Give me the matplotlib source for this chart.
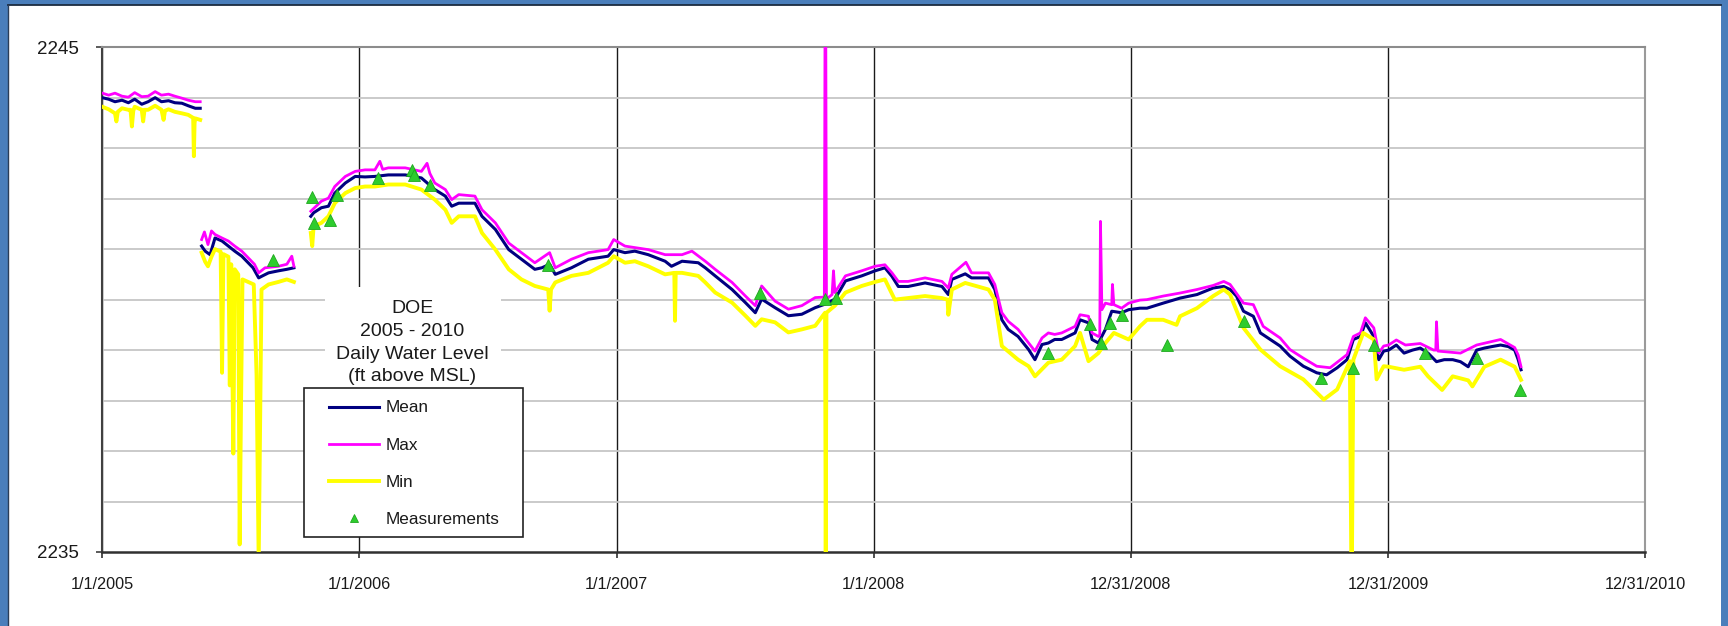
import numpy as np
import matplotlib
matplotlib.use("Agg")
import matplotlib.pyplot as plt
from matplotlib.patches import Rectangle
from matplotlib.lines import Line2D
from matplotlib.ticker import MultipleLocator, FixedLocator, FixedFormatter

plt.rcParams['font.family'] = ['Liberation Sans', 'DejaVu Sans']

nan = np.nan
START = np.datetime64('2005-01-01')

# ---- data: (day since 1/1/2005, water level ft above MSL) ----
mean_series = [
    (0, 2244.00), (9, 2243.97), (18, 2243.92), (28, 2243.95), (37, 2243.90), (46, 2243.97),
    (56, 2243.87), (65, 2243.92), (75, 2244.00), (84, 2243.92), (94, 2243.94), (103, 2243.90),
    (113, 2243.89), (122, 2243.84), (132, 2243.79), (139, 2243.79),
    (140, nan),
    (141, 2241.06), (146, 2240.96), (153, 2240.89), (160, 2241.22), (170, 2241.16), (179, 2241.06),
    (188, 2240.96), (198, 2240.86), (207, 2240.73), (214, 2240.63), (222, 2240.43), (226, 2240.46),
    (236, 2240.53), (250, 2240.57), (262, 2240.60), (272, 2240.63),
    (284, nan),
    (296, 2241.65), (300, 2241.72), (311, 2241.82), (321, 2241.85), (330, 2242.11), (345, 2242.31),
    (359, 2242.44), (373, 2242.43), (387, 2242.44), (406, 2242.47), (430, 2242.47), (453, 2242.41),
    (472, 2242.18), (487, 2242.05), (496, 2241.85), (506, 2241.91), (529, 2241.91), (539, 2241.65),
    (558, 2241.39), (577, 2240.99), (595, 2240.80), (614, 2240.60), (624, 2240.63), (635, 2240.70),
    (643, 2240.50), (666, 2240.63), (690, 2240.80), (718, 2240.86), (726, 2240.99),
    (742, 2240.93), (756, 2240.96), (775, 2240.89), (799, 2240.76), (808, 2240.66), (823, 2240.76),
    (846, 2240.73), (856, 2240.63), (870, 2240.47), (894, 2240.20), (913, 2239.94), (927, 2239.74),
    (936, 2240.01), (955, 2239.84), (974, 2239.68), (993, 2239.71), (1012, 2239.84), (1026, 2239.91),
    (1040, 2240.01), (1055, 2240.37), (1078, 2240.47), (1097, 2240.57),
    (1111, 2240.63), (1121, 2240.46), (1130, 2240.26), (1144, 2240.26), (1168, 2240.33), (1192, 2240.26),
    (1201, 2240.10), (1206, 2240.40), (1225, 2240.51), (1234, 2240.43), (1258, 2240.43), (1267, 2240.20),
    (1277, 2239.60), (1286, 2239.41), (1300, 2239.27), (1315, 2239.01), (1324, 2238.81), (1334, 2239.11),
    (1343, 2239.14), (1352, 2239.21), (1362, 2239.21), (1381, 2239.34), (1388, 2239.60), (1400, 2239.54),
    (1405, 2239.21), (1414, 2239.14), (1424, 2239.41), (1433, 2239.77), (1447, 2239.74), (1457, 2239.80),
    (1473, 2239.83),
    (1483, 2239.83), (1506, 2239.93), (1530, 2240.03), (1554, 2240.10), (1577, 2240.23), (1592, 2240.26),
    (1601, 2240.20), (1610, 2240.07), (1620, 2239.77), (1634, 2239.67), (1644, 2239.34), (1658, 2239.21),
    (1672, 2239.08), (1686, 2238.88), (1705, 2238.68), (1724, 2238.55), (1738, 2238.51), (1753, 2238.65),
    (1767, 2238.81), (1776, 2239.21), (1786, 2239.27), (1793, 2239.54), (1805, 2239.27), (1812, 2238.81),
    (1819, 2238.98),
    (1826, 2239.00), (1837, 2239.10), (1848, 2238.94), (1860, 2239.00), (1871, 2239.04), (1882, 2238.94),
    (1894, 2238.77), (1905, 2238.81), (1917, 2238.81), (1928, 2238.77), (1939, 2238.67), (1951, 2239.00),
    (1962, 2239.04), (1973, 2239.07), (1985, 2239.10), (1996, 2239.07), (2005, 2239.00), (2010, 2238.81),
    (2014, 2238.61),
]

max_series = [
    (0, 2244.09), (9, 2244.05), (18, 2244.09), (28, 2244.03), (37, 2244.01), (46, 2244.10),
    (56, 2244.02), (65, 2244.03), (75, 2244.12), (84, 2244.05), (94, 2244.07), (103, 2244.03),
    (113, 2243.99), (122, 2243.95), (132, 2243.92), (139, 2243.92),
    (140, nan),
    (141, 2241.19), (145, 2241.34), (150, 2241.09), (155, 2241.36), (160, 2241.29), (170, 2241.22),
    (179, 2241.16), (188, 2241.06), (198, 2240.96), (207, 2240.83), (216, 2240.70), (222, 2240.53),
    (231, 2240.63), (250, 2240.66), (262, 2240.70), (269, 2240.86), (272, 2240.66),
    (284, nan),
    (296, 2241.75), (311, 2241.95), (321, 2242.01), (330, 2242.24), (345, 2242.44), (359, 2242.54),
    (373, 2242.57), (387, 2242.57), (394, 2242.74), (398, 2242.58), (406, 2242.61), (430, 2242.61),
    (453, 2242.54), (461, 2242.70), (465, 2242.50), (472, 2242.31), (487, 2242.18), (496, 2241.98),
    (506, 2242.08), (529, 2242.05), (539, 2241.78), (558, 2241.52), (577, 2241.12), (595, 2240.93),
    (614, 2240.73), (635, 2240.93), (643, 2240.63), (666, 2240.80), (690, 2240.93), (718, 2240.99),
    (726, 2241.19),
    (742, 2241.06), (756, 2241.03), (775, 2240.99), (799, 2240.89), (823, 2240.89), (837, 2240.96),
    (856, 2240.76), (870, 2240.60), (894, 2240.34), (913, 2240.07), (927, 2239.88), (936, 2240.27),
    (955, 2239.97), (974, 2239.81), (993, 2239.88), (1012, 2240.04), (1025, 2240.05), (1026, 2245.60),
    (1027, 2245.60), (1028, 2240.01), (1036, 2240.10), (1038, 2240.57), (1040, 2240.14), (1055, 2240.47),
    (1078, 2240.57), (1097, 2240.66),
    (1111, 2240.69), (1121, 2240.53), (1130, 2240.36), (1144, 2240.36), (1168, 2240.43), (1192, 2240.36),
    (1201, 2240.23), (1206, 2240.50), (1226, 2240.74), (1234, 2240.53), (1258, 2240.53), (1267, 2240.30),
    (1277, 2239.74), (1286, 2239.57), (1300, 2239.41), (1315, 2239.14), (1324, 2238.98), (1334, 2239.24),
    (1343, 2239.34), (1352, 2239.31), (1362, 2239.34), (1381, 2239.47), (1388, 2239.70), (1400, 2239.67),
    (1405, 2239.34), (1414, 2239.27), (1416, 2239.30), (1417, 2241.55), (1419, 2239.80), (1424, 2239.93),
    (1433, 2239.90), (1434, 2240.30), (1436, 2239.90), (1447, 2239.83), (1457, 2239.93), (1473, 2239.99),
    (1483, 2240.00), (1506, 2240.07), (1530, 2240.13), (1554, 2240.20), (1577, 2240.28), (1592, 2240.36),
    (1601, 2240.30), (1620, 2239.93), (1634, 2239.90), (1648, 2239.47), (1672, 2239.24), (1686, 2239.01),
    (1705, 2238.84), (1724, 2238.68), (1743, 2238.65), (1767, 2238.91), (1776, 2239.27), (1786, 2239.34),
    (1793, 2239.64), (1805, 2239.44), (1812, 2238.94), (1819, 2239.08),
    (1826, 2239.10), (1837, 2239.20), (1850, 2239.10), (1871, 2239.13), (1890, 2239.00), (1893, 2239.00),
    (1894, 2239.56), (1896, 2238.98), (1928, 2238.94), (1951, 2239.10), (1973, 2239.17), (1985, 2239.21),
    (2005, 2239.05), (2010, 2238.90), (2014, 2238.67),
]

min_series = [
    (0, 2243.82), (9, 2243.77), (18, 2243.69), (20, 2243.53), (22, 2243.72), (28, 2243.79),
    (37, 2243.76), (40, 2243.76), (42, 2243.43), (44, 2243.74), (46, 2243.82), (56, 2243.76),
    (58, 2243.53), (60, 2243.76), (65, 2243.76), (75, 2243.84), (84, 2243.76), (87, 2243.56),
    (89, 2243.74), (94, 2243.77), (103, 2243.72), (113, 2243.69), (122, 2243.66), (129, 2243.60),
    (130, 2242.84), (131, 2243.50), (132, 2243.59), (139, 2243.56),
    (140, nan),
    (141, 2240.93), (146, 2240.75), (150, 2240.66), (155, 2240.85), (160, 2241.00), (168, 2240.95),
    (170, 2238.55), (172, 2240.90), (179, 2240.85), (181, 2238.30), (183, 2240.70), (186, 2236.95),
    (188, 2240.60), (193, 2240.50), (195, 2235.15), (197, 2238.00), (199, 2240.40), (207, 2240.35),
    (215, 2240.30), (219, 2238.50), (222, 2234.80), (224, 2237.50), (226, 2240.20), (236, 2240.30),
    (250, 2240.35), (262, 2240.40), (272, 2240.35),
    (284, nan),
    (296, 2241.32), (298, 2241.06), (300, 2241.45), (311, 2241.52), (321, 2241.65), (330, 2241.91),
    (345, 2242.11), (359, 2242.21), (373, 2242.24), (387, 2242.24), (406, 2242.28), (430, 2242.28),
    (453, 2242.18), (472, 2241.98), (487, 2241.78), (496, 2241.52), (506, 2241.65), (529, 2241.65),
    (539, 2241.32), (558, 2240.99), (577, 2240.60), (595, 2240.40), (614, 2240.27), (633, 2240.20),
    (635, 2239.78), (637, 2240.20), (643, 2240.34), (666, 2240.47), (690, 2240.53), (718, 2240.73),
    (726, 2240.86),
    (742, 2240.73), (756, 2240.76), (775, 2240.66), (799, 2240.50), (812, 2240.53), (813, 2239.58),
    (814, 2240.53), (823, 2240.53), (846, 2240.47), (856, 2240.34), (870, 2240.14), (894, 2239.94),
    (913, 2239.68), (927, 2239.48), (936, 2239.61), (955, 2239.55), (974, 2239.35), (993, 2239.41),
    (1012, 2239.48), (1026, 2239.74), (1027, 2234.90), (1028, 2239.74), (1040, 2239.88), (1055, 2240.14),
    (1078, 2240.27), (1097, 2240.35),
    (1111, 2240.40), (1125, 2240.00), (1144, 2240.03), (1168, 2240.07), (1192, 2240.03), (1200, 2240.00),
    (1201, 2239.70), (1206, 2240.20), (1225, 2240.33), (1258, 2240.20), (1267, 2240.00), (1277, 2239.08),
    (1300, 2238.81), (1315, 2238.68), (1324, 2238.48), (1343, 2238.75), (1362, 2238.81), (1381, 2239.08),
    (1388, 2239.34), (1400, 2238.78), (1414, 2238.94), (1424, 2239.14), (1436, 2239.34), (1457, 2239.21),
    (1473, 2239.47),
    (1483, 2239.60), (1506, 2239.60), (1525, 2239.50), (1530, 2239.67), (1554, 2239.83), (1577, 2240.07),
    (1592, 2240.20), (1601, 2240.10), (1620, 2239.44), (1644, 2239.01), (1672, 2238.68), (1705, 2238.42),
    (1734, 2238.02), (1753, 2238.22), (1771, 2238.78), (1773, 2234.90), (1774, 2234.90), (1776, 2238.81),
    (1790, 2239.34), (1805, 2239.21), (1809, 2238.42), (1819, 2238.68),
    (1826, 2238.67), (1848, 2238.61), (1871, 2238.67), (1882, 2238.48), (1902, 2238.21), (1917, 2238.48),
    (1939, 2238.40), (1945, 2238.28), (1962, 2238.67), (1985, 2238.81), (2005, 2238.67), (2014, 2238.41),
]

measurements = [
    (243, 2240.79), (297, 2242.04), (300, 2241.51), (323, 2241.58), (333, 2242.07), (392, 2242.40),
    (439, 2242.57), (442, 2242.47), (465, 2242.27), (633, 2240.69), (934, 2240.13), (1026, 2240.01),
    (1041, 2240.03), (1342, 2238.94), (1402, 2239.52), (1418, 2239.14), (1431, 2239.54), (1447, 2239.70),
    (1511, 2239.11), (1621, 2239.57), (1730, 2238.45), (1775, 2238.65), (1805, 2239.11), (1878, 2238.94),
    (1951, 2238.84), (2013, 2238.21),
]

series_labels = ['Mean', 'Max', 'Min', 'Measurements']
title_lines = ['DOE', '2005 - 2010', 'Daily Water Level', '(ft above MSL)']
tick_days = [0, 365, 730, 1095, 1460, 1825, 2190]
tick_labels = ['1/1/2005', '1/1/2006', '1/1/2007', '1/1/2008', '12/31/2008', '12/31/2009', '12/31/2010']
y_min, y_max = 2235, 2245
y_ticks = [2235, 2245]


def split(series):
    d = np.array([p[0] for p in series], dtype=int)
    v = np.array([p[1] for p in series], dtype=float)
    return START + d.astype('timedelta64[D]'), v


W, H = 1728, 626
fig = plt.figure(figsize=(W / 100, H / 100), dpi=100)
fig.patch.set_facecolor('#4A7EBB')


def fx(px):
    return px / W


def fy(py):
    return 1 - py / H


# inner white panel
fig.add_artist(Rectangle((fx(8), 0), fx(1721) - fx(8), fy(5), transform=fig.transFigure,
                         facecolor='white', edgecolor='none', zorder=-5))
fig.add_artist(Line2D([fx(8), fx(1721)], [fy(5), fy(5)], transform=fig.transFigure,
                      color='#1b2b40', lw=1.3, zorder=-4))
fig.add_artist(Line2D([fx(8), fx(8)], [0, fy(5)], transform=fig.transFigure,
                      color='#2a3d58', lw=1.0, zorder=-4))

ax = fig.add_axes([fx(102.3), fy(552), fx(1645) - fx(102.3), fy(47.2) - fy(552)])
ax.set_facecolor('white')

dm, vm = split(mean_series)
dx, vx = split(max_series)
dn, vn = split(min_series)
dmeas, vmeas = split(measurements)

l_mean, = ax.plot(dm, vm, color='#000080', lw=2.2, zorder=3, label=series_labels[0])
l_max, = ax.plot(dx, vx, color='#FF00FF', lw=2.0, zorder=3.1, label=series_labels[1])
l_min, = ax.plot(dn, vn, color='#FFFF00', lw=2.8, zorder=3.2, label=series_labels[2])
l_meas, = ax.plot(dmeas, vmeas, ls='none', marker='^', markersize=9, color='#2ECC2E',
                  markeredgecolor='#1FA81F', markeredgewidth=0.6, zorder=4, label=series_labels[3])

ax.set_xlim(START, START + np.timedelta64(tick_days[-1], 'D'))
ax.set_ylim(y_min, y_max)

tick_dates = matplotlib.dates.date2num(START + np.array(tick_days).astype('timedelta64[D]'))
ax.xaxis.set_major_locator(FixedLocator(tick_dates))
ax.xaxis.set_major_formatter(FixedFormatter(tick_labels))
ax.yaxis.set_major_locator(FixedLocator(y_ticks))
ax.yaxis.set_minor_locator(MultipleLocator(1))
ax.yaxis.set_major_formatter(matplotlib.ticker.FormatStrFormatter('%d'))

ax.set_axisbelow(True)
ax.yaxis.grid(True, which='minor', color='#c6c6c6', lw=1.3)
ax.xaxis.grid(True, which='major', color='#1a1a1a', lw=1.0)

ax.tick_params(axis='y', which='major', length=4.5, width=1.2, color='#404040', pad=12.5,
               labelsize=13.5, labelcolor='#1a1a1a')
ax.tick_params(axis='y', which='minor', length=0)
ax.tick_params(axis='x', which='major', length=4, width=1.2, color='#303030', pad=13.7,
               labelsize=11.7, labelcolor='#1a1a1a')

ax.spines['left'].set_color('#404040')
ax.spines['left'].set_linewidth(1.5)
ax.spines['bottom'].set_color('#303030')
ax.spines['bottom'].set_linewidth(1.8)
ax.spines['top'].set_color('#8c8c8c')
ax.spines['top'].set_linewidth(1.5)
ax.spines['right'].set_color('#9a9a9a')
ax.spines['right'].set_linewidth(1.5)

# title block with white background
fig.add_artist(Rectangle((fx(325), fy(388)), fx(501) - fx(325), fy(287) - fy(388),
                         transform=fig.transFigure, facecolor='white', edgecolor='none', zorder=3))
for i, line in enumerate(title_lines):
    fig.text(fx(412.5), fy(308.5 + 22.8 * i), line, ha='center', va='center', fontsize=14,
             color='#1a1a1a', zorder=4)

# legend box
fig.add_artist(Rectangle((fx(304), fy(537)), fx(523) - fx(304), fy(388) - fy(537),
                         transform=fig.transFigure, facecolor='white', edgecolor='#222222',
                         lw=1.2, zorder=3))
leg = fig.legend([l_mean, l_max, l_min, l_meas], series_labels, loc='upper left',
                 bbox_to_anchor=(fx(329), fy(400.5)), bbox_transform=fig.transFigure,
                 frameon=False, fontsize=12.3, handlelength=2.95, handletextpad=0.35,
                 labelspacing=1.3, borderpad=0, borderaxespad=0, markerscale=0.6)
for t in leg.get_texts():
    t.set_color('#1a1a1a')
leg.set_zorder(5)

fig.savefig('out.png', dpi=100, facecolor=fig.get_facecolor())
